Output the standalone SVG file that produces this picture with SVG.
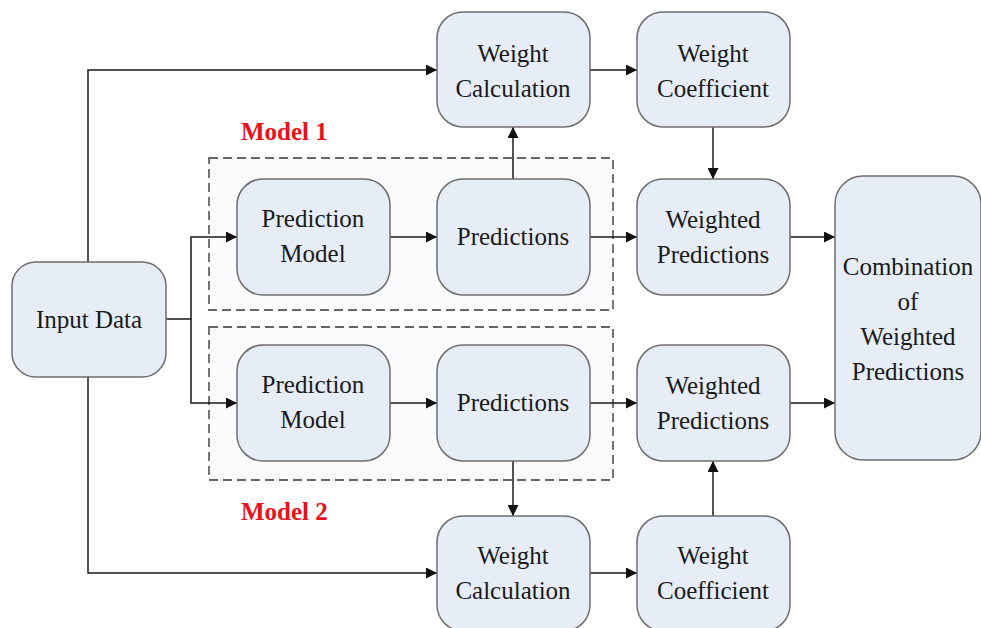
<svg xmlns="http://www.w3.org/2000/svg" width="981" height="628" viewBox="0 0 981 628">
<defs>
<style>
.box{fill:#e6edf7;stroke:#6e6e6e;stroke-width:1.5}
.grp{fill:#f9fbfd;stroke:#666;stroke-width:1.8;stroke-dasharray:9 5}
.lbl{font-size:25px;fill:#1a1a1a;text-anchor:middle}
.mdl{font-size:25px;font-weight:bold;fill:#e8121a}
.ln{fill:none;stroke:#1a1a1a;stroke-width:1.5}
</style>
<marker id="ah" viewBox="0 0 10 10" refX="10" refY="5" markerWidth="13" markerHeight="11" markerUnits="userSpaceOnUse" orient="auto">
<path d="M0,0 L10,5 L0,10 Z" fill="#111"/>
</marker>
</defs>
<rect width="981" height="628" fill="#fff"/>
<g font-family="'Liberation Serif', 'Times New Roman', 'DejaVu Serif', serif">
<g id="model1">
<rect class="grp" x="209" y="158" width="404" height="152"/>
<text class="mdl" x="241" y="140">Model 1</text>
</g>
<g id="model2">
<rect class="grp" x="209" y="327" width="404" height="153"/>
<text class="mdl" x="241" y="520">Model 2</text>
</g>

<g id="connectors">
<path class="ln" d="M88,262 V70 H437" marker-end="url(#ah)"/>
<path class="ln" d="M88,377 V573 H437" marker-end="url(#ah)"/>
<path class="ln" d="M166,319 H191 V237 H237" marker-end="url(#ah)"/>
<path class="ln" d="M191,319 V403 H237" marker-end="url(#ah)"/>
<path class="ln" d="M390,237 H437" marker-end="url(#ah)"/>
<path class="ln" d="M390,403 H437" marker-end="url(#ah)"/>
<path class="ln" d="M513,179 V127" marker-end="url(#ah)"/>
<path class="ln" d="M513,461 V516" marker-end="url(#ah)"/>
<path class="ln" d="M590,70 H637" marker-end="url(#ah)"/>
<path class="ln" d="M590,573 H637" marker-end="url(#ah)"/>
<path class="ln" d="M713,127 V179" marker-end="url(#ah)"/>
<path class="ln" d="M713,516 V461" marker-end="url(#ah)"/>
<path class="ln" d="M590,237 H637" marker-end="url(#ah)"/>
<path class="ln" d="M590,403 H637" marker-end="url(#ah)"/>
<path class="ln" d="M790,237 H835" marker-end="url(#ah)"/>
<path class="ln" d="M790,403 H835" marker-end="url(#ah)"/>
</g>

<g id="input">
<rect class="box" x="12" y="262" width="154" height="115" rx="24"/>
<text class="lbl" x="89" y="328">Input Data</text>
</g>
<g id="predmodel1">
<rect class="box" x="237" y="179" width="153" height="116" rx="26"/>
<text class="lbl" x="313" y="227">Prediction</text>
<text class="lbl" x="313" y="262">Model</text>
</g>
<g id="predictions1">
<rect class="box" x="437" y="179" width="153" height="116" rx="26"/>
<text class="lbl" x="513" y="245">Predictions</text>
</g>
<g id="weightcalc1">
<rect class="box" x="437" y="12" width="153" height="115" rx="26"/>
<text class="lbl" x="513" y="62">Weight</text>
<text class="lbl" x="513" y="97">Calculation</text>
</g>
<g id="weightcoef1">
<rect class="box" x="637" y="12" width="153" height="115" rx="26"/>
<text class="lbl" x="713" y="62">Weight</text>
<text class="lbl" x="713" y="97">Coefficient</text>
</g>
<g id="weighted1">
<rect class="box" x="637" y="179" width="153" height="116" rx="26"/>
<text class="lbl" x="713" y="228">Weighted</text>
<text class="lbl" x="713" y="263">Predictions</text>
</g>
<g id="predmodel2">
<rect class="box" x="237" y="345" width="153" height="116" rx="26"/>
<text class="lbl" x="313" y="393">Prediction</text>
<text class="lbl" x="313" y="428">Model</text>
</g>
<g id="predictions2">
<rect class="box" x="437" y="345" width="153" height="116" rx="26"/>
<text class="lbl" x="513" y="411">Predictions</text>
</g>
<g id="weighted2">
<rect class="box" x="637" y="345" width="153" height="116" rx="26"/>
<text class="lbl" x="713" y="394">Weighted</text>
<text class="lbl" x="713" y="429">Predictions</text>
</g>
<g id="weightcalc2">
<rect class="box" x="437" y="516" width="153" height="115" rx="26"/>
<text class="lbl" x="513" y="564">Weight</text>
<text class="lbl" x="513" y="599">Calculation</text>
</g>
<g id="weightcoef2">
<rect class="box" x="637" y="516" width="153" height="115" rx="26"/>
<text class="lbl" x="713" y="564">Weight</text>
<text class="lbl" x="713" y="599">Coefficient</text>
</g>
<g id="combination">
<rect class="box" x="835" y="176" width="146" height="284" rx="28"/>
<text class="lbl" x="908" y="275">Combination</text>
<text class="lbl" x="908" y="310">of</text>
<text class="lbl" x="908" y="345">Weighted</text>
<text class="lbl" x="908" y="380">Predictions</text>
</g>
</g>
</svg>
